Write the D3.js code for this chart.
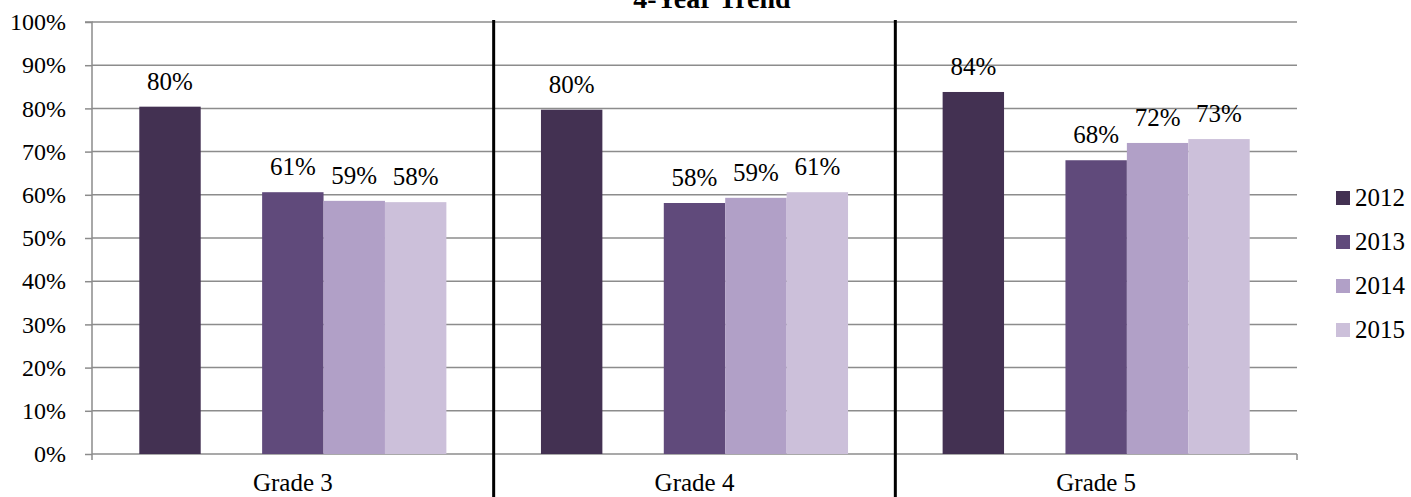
<!DOCTYPE html>
<html><head><meta charset="utf-8">
<script src="https://cdn.jsdelivr.net/npm/d3@7"></script>
<style>body{margin:0;background:#fff}svg{display:block}text{font-family:"Liberation Serif","Times New Roman",serif}</style>
</head><body><svg id="c" width="1411" height="497"></svg>
<script>
const categories = ["Grade 3","Grade 4","Grade 5"];
const years = ["2012","2013","2014","2015"];
const v2012 = [80.4, 79.7, 83.8];
const v2013 = [60.6, 58.1, 68.0];
const v2014 = [58.6, 59.3, 72.0];
const v2015 = [58.3, 60.6, 72.9];
const labels2012 = ["80%","80%","84%"];
const labels2013 = ["61%","58%","68%"];
const labels2014 = ["59%","59%","72%"];
const labels2015 = ["58%","61%","73%"];
const yTicks = [0,10,20,30,40,50,60,70,80,90,100];
const colors = ["#433152","#604A7B","#B1A0C7","#CCC0DA"];
const title = "4-Year Trend";

const series = [v2012, v2013, v2014, v2015];
const seriesLabels = [labels2012, labels2013, labels2014, labels2015];
const slots = ["2012","gap","2013","2014","2015"];

const svg = d3.select("#c");
const L = 92, R = 1297, T = 22, B = 454;
const x0 = d3.scaleBand().domain(categories).range([L, R]);
const x1 = d3.scaleBand().domain(slots).range([0, x0.bandwidth()]).paddingOuter(0.77).paddingInner(0);
const y = d3.scaleLinear().domain([0,100]).range([B, T]);

// gridlines
svg.append("g").selectAll("line").data(yTicks.filter(t=>t>0)).join("line")
  .attr("x1", L).attr("x2", R).attr("y1", d=>y(d)).attr("y2", d=>y(d))
  .attr("stroke", "#8c8c8c").attr("stroke-width", 1.5);

// y axis
const yAxis = d3.axisLeft(y).tickValues(yTicks).tickFormat(d=>d+"%").tickSize(7).tickPadding(19);
const ga = svg.append("g").attr("transform", `translate(${L},0)`).call(yAxis);
ga.attr("font-family", null);
ga.select(".domain").attr("stroke","#8c8c8c").attr("stroke-width",1.5).attr("d", `M-7,${T}H0V${B+6}`);
ga.selectAll(".tick line").attr("stroke","#8c8c8c").attr("stroke-width",1.5);
ga.selectAll(".tick text").attr("font-size", 24).attr("fill","#000");

// x axis baseline
const gx = svg.append("g").attr("transform", `translate(0,${B})`)
  .call(d3.axisBottom(x0).tickSize(0).tickPadding(0));
gx.attr("font-family", null);
gx.select(".domain").attr("stroke","#8c8c8c").attr("stroke-width",1.5).attr("d", `M${L},0H${R}`);
gx.selectAll(".tick text").attr("font-size", 25).attr("fill","#000").attr("dy", null).attr("y", 37);
svg.append("g").selectAll("line").data([R]).join("line")
  .attr("x1", d=>d).attr("x2", d=>d).attr("y1", B).attr("y2", B+6)
  .attr("stroke","#8c8c8c").attr("stroke-width",1.5);

// bars
const gCat = svg.append("g").selectAll("g").data(categories).join("g")
  .attr("transform", d=>`translate(${x0(d)},0)`);
series.forEach((vals, si) => {
  gCat.append("rect")
    .attr("x", (d,i)=>x1(years[si]))
    .attr("width", x1.bandwidth())
    .attr("y", (d,i)=>y(vals[i]))
    .attr("height", (d,i)=>B - y(vals[i]))
    .attr("fill", colors[si]);
  gCat.append("text")
    .attr("x", (d,i)=>x1(years[si]) + x1.bandwidth()/2)
    .attr("y", (d,i)=>y(vals[i]) - 17)
    .attr("text-anchor","middle").attr("font-size",25).attr("fill","#000")
    .text((d,i)=>seriesLabels[si][i]);
});

// dividers
svg.append("g").selectAll("line").data(categories.slice(1)).join("line")
  .attr("x1", d=>x0(d)).attr("x2", d=>x0(d)).attr("y1", 20).attr("y2", 497)
  .attr("stroke","#000").attr("stroke-width",3);

// title
svg.append("text").attr("x", 712).attr("y", 8).attr("text-anchor","middle")
  .attr("font-size", 28).attr("font-weight","bold").text(title);

// legend
const lg = svg.append("g").selectAll("g").data(years).join("g")
  .attr("transform", (d,i)=>`translate(1336,${198 + i*44})`);
lg.append("rect").attr("x",0).attr("y",-7).attr("width",14).attr("height",14).attr("fill",(d,i)=>colors[i]);
lg.append("text").attr("x",19).attr("y",8).attr("font-size",25).text(d=>d);
</script></body></html>
